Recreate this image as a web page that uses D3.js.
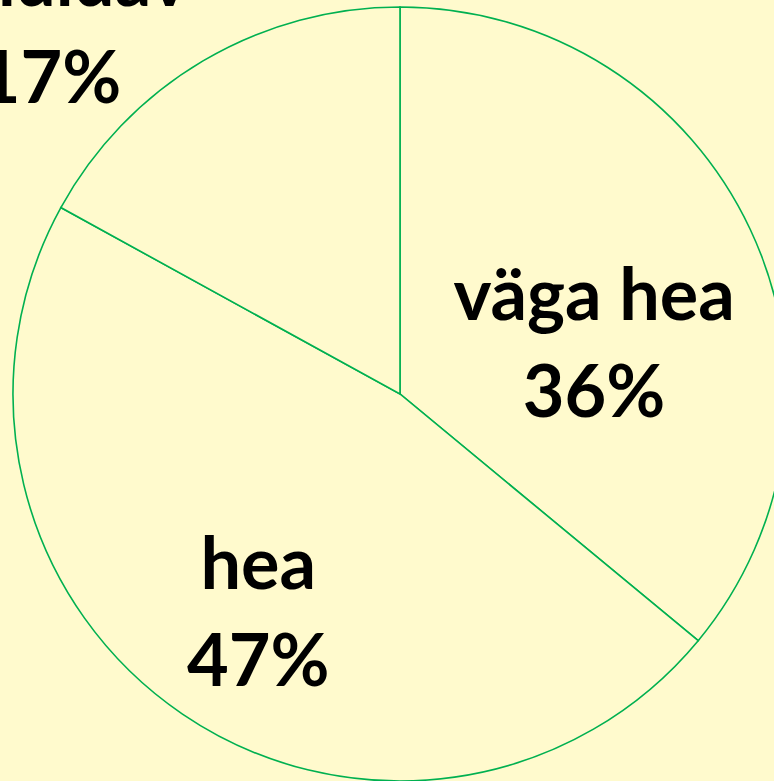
<!DOCTYPE html>
<html lang="et">
<head>
  <meta charset="utf-8" />
  <title>Pie</title>
  <script src="https://cdn.jsdelivr.net/npm/d3@7"></script>
  <style>
    html, body { margin: 0; padding: 0; background: #FFFACD; overflow: hidden; }
    text { font-family: Lato, "Open Sans", sans-serif; font-weight: bold; fill: #000; }
  </style>
</head>
<body>
<script>

// data
var categories = ["väga hea", "hea", "rahuldav"];
var shares = [36, 47, 17];

var w = 774;
var h = 781;
var cx = 400, cy = 394, radius = 387;
var fontSize = 72;
var lineGap = 97;

// where Excel put each label: angle (deg from 12 o'clock) and distance from centre
var labelPlace = [
  {angle: 82, dist: 196},
  {angle: 210.4, dist: 280},
  {angle: 314.3, dist: 489}
];

var rows = categories.map(function(c, i) { return {name: c, value: shares[i]}; });

var pie = d3.pie()
            .sort(null)
            .value(function(d) { return d.value; });
var arc = d3.arc()
            .innerRadius(0)
            .outerRadius(radius);

var svg = d3.select("body")
            .append("svg")
            .attr("width", w)
            .attr("height", h);

var g = svg.append("g")
           .attr("transform", "translate(" + cx + "," + cy + ")");

g.selectAll("path")
 .data(pie(rows))
 .enter()
 .append("path")
 .attr("d", arc)
 .attr("fill", "#FFFACD")
 .attr("stroke", "#00B050")
 .attr("stroke-width", 1.6);

var labels = g.selectAll("g.lbl")
              .data(pie(rows))
              .enter()
              .append("g")
              .attr("class", "lbl")
              .attr("transform", function(d, i) {
                var a = labelPlace[i].angle * Math.PI / 180;
                var r = labelPlace[i].dist;
                return "translate(" + (r * Math.sin(a)) + "," + (-r * Math.cos(a)) + ")";
              });

labels.append("text")
      .attr("text-anchor", "middle")
      .attr("y", -lineGap / 2 + 2)
      .style("font-size", fontSize + "px")
      .text(function(d) { return d.data.name; });

labels.append("text")
      .attr("text-anchor", "middle")
      .attr("y", lineGap / 2 + 2)
      .style("font-size", fontSize + "px")
      .text(function(d) { return d.data.value + "%"; });

</script>
</body>
</html>
